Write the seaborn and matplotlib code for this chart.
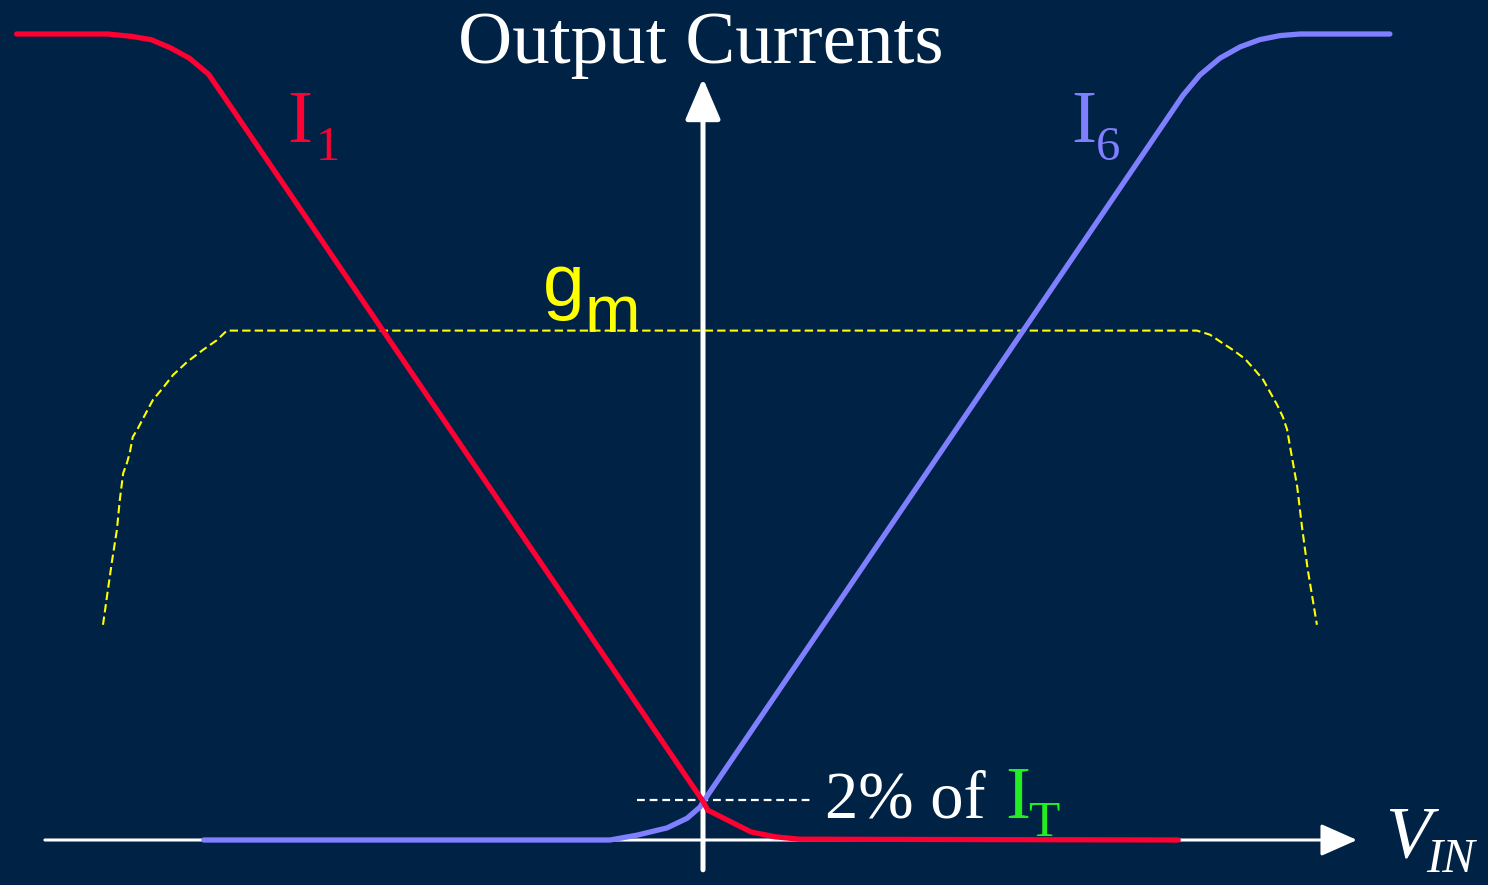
import matplotlib
matplotlib.use("Agg")
import matplotlib.pyplot as plt
import seaborn as sns
import pandas as pd

# colours
bg = "#002244"
red = "#FF0033"
blue = "#7F7FFF"
yellow = "#FFFF00"
green = "#22EE22"

# I1 (normalised current vs normalised V_IN)
v_i1 = [-1.43, -1.24, -1.19, -1.15, -1.11, -1.07, -1.03, -1.00, 0.00, 0.01, 0.06, 0.10, 0.15, 0.20, 0.99]
i_i1 = [1.000, 1.000, 0.997, 0.993, 0.983, 0.970, 0.950, 0.924, 0.048, 0.037, 0.022, 0.010, 0.004, 0.001, 0.000]

# I6
v_i6 = [-1.04, -0.194, -0.1375, -0.075, -0.033, -0.006, 0.00, 1.00, 1.035, 1.077, 1.119, 1.160, 1.202, 1.244, 1.431]
i_i6 = [0.000, 0.000, 0.006, 0.015, 0.027, 0.041, 0.047, 0.924, 0.949, 0.970, 0.984, 0.993, 0.998, 1.000, 1.000]

# gm (transconductance, dashed)
v_gm = [-1.250, -1.242, -1.231, -1.221, -1.215, -1.208, -1.200, -1.194, -1.188, -1.177, -1.163,
        -1.146, -1.125, -1.104, -1.075, -1.042, -1.013, -0.992,
        1.029, 1.056, 1.081, 1.104, 1.129, 1.150, 1.167, 1.181, 1.196, 1.208, 1.217, 1.223,
        1.227, 1.238, 1.248, 1.260, 1.279]
i_gm = [0.267, 0.301, 0.347, 0.385, 0.422, 0.455, 0.468, 0.481, 0.500, 0.511, 0.527,
        0.546, 0.561, 0.577, 0.593, 0.608, 0.620, 0.632,
        0.632, 0.627, 0.617, 0.608, 0.597, 0.583, 0.571, 0.556, 0.540, 0.525, 0.509, 0.488,
        0.475, 0.438, 0.388, 0.335, 0.267]

cross_level = 0.050   # "2% of I_T" marker level
cross_span = [-0.1375, 0.227]

df_i1 = pd.DataFrame({"vin": v_i1, "i": i_i1})
df_i6 = pd.DataFrame({"vin": v_i6, "i": i_i6})
df_gm = pd.DataFrame({"vin": v_gm, "i": i_gm})

sns.set_theme(style="dark", rc={"axes.facecolor": bg, "figure.facecolor": bg})

W, H = 1488, 885
fig = plt.figure(figsize=(W / 100, H / 100), dpi=100)
ax = fig.add_axes([0, 0, 1, 1])

# axes with arrows
ax.annotate("", xy=(1.3625, 0), xytext=(-1.371, 0),
            arrowprops=dict(arrowstyle="-|>,head_length=0.45,head_width=0.2", color="white",
                            lw=2.2, mutation_scale=50, shrinkA=0, shrinkB=0), zorder=1)
ax.annotate("", xy=(0, 0.945), xytext=(0, -0.037),
            arrowprops=dict(arrowstyle="-|>,head_length=0.42,head_width=0.18", color="white",
                            lw=3.6, mutation_scale=60, shrinkA=0, shrinkB=0), zorder=1)

ax.plot(cross_span, [cross_level, cross_level], color="white", lw=1.6,
        linestyle=(0, (3.5, 2.2)), zorder=2)

sns.lineplot(data=df_gm, x="vin", y="i", sort=False, estimator=None, ax=ax,
             color=yellow, lw=1.5, linestyle=(0, (4, 2)), zorder=3)
sns.lineplot(data=df_i6, x="vin", y="i", sort=False, estimator=None, ax=ax,
             color=blue, lw=3.8, zorder=4)
sns.lineplot(data=df_i1, x="vin", y="i", sort=False, estimator=None, ax=ax,
             color=red, lw=3.8, zorder=5)
ax.set_xlim(-703 / 480, (W - 703) / 480)
ax.set_ylim((840 - H) / 806, 840 / 806)
ax.axis("off")


def px(x, y):
    return x / W, 1 - y / H


def label(x, y, s, color, size, family="Liberation Serif", style="normal"):
    fig.text(*px(x, y), s, color=color, fontsize=size, family=family, style=style,
             ha="left", va="baseline")


fig.text(*px(701, 63), "Output Currents", color="white", fontsize=54,
         family="Liberation Serif", ha="center", va="baseline")
label(287, 142, "I", red, 54)
label(316, 160, "1", red, 35)
label(1071, 142, "I", blue, 54)
label(1096, 160, "6", blue, 35)
label(543, 306, "g", yellow, 54, family="Liberation Sans")
label(585, 332, "m", yellow, 48, family="Liberation Sans")
label(825, 818, "2% of", "white", 48)
label(1005, 818, "I", green, 54)
label(1028, 836, "T", green, 37)
label(1385, 858, "V", "white", 54, style="italic")
label(1426, 872, "IN", "white", 35, style="italic")

fig.savefig("out.png", dpi=100, facecolor=bg)
